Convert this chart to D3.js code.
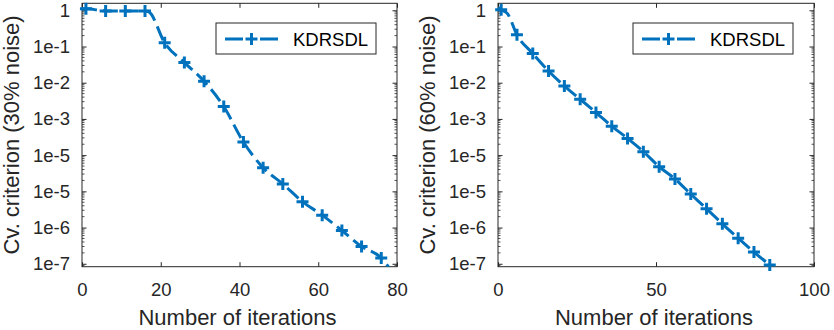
<!DOCTYPE html>
<html lang="en">
<head>
  <meta charset="UTF-8">
  <title>Cv. criterion vs iterations</title>
  <script src="https://d3js.org/d3.v7.min.js"></script>
  <style>
    body {
      margin: 0;
      background: #fff;
      font-family: "Liberation Sans", Arial, sans-serif;
    }
    .axis path, .axis line {
      stroke: #262626;
    }
    .axis text {
      font-family: "Liberation Sans", Arial, sans-serif;
      font-size: 18.5px;
      fill: #262626;
    }
  </style>
</head>
<body>
  <svg width="834" height="330"></svg>

  <script>
    // shared y ticks (labels as printed in the figure)
    const yTickValues = [1, 1e-1, 1e-2, 1e-3, 1e-4, 1e-5, 1e-6, 1e-7];
    const yTickLabels = ["1", "1e-1", "1e-2", "1e-3", "1e-5", "1e-5", "1e-6", "1e-7"];

    // 30% noise panel
    const iter30 = [0, 1, 6, 11, 16, 17, 21, 26, 31, 36, 41, 46, 51, 56, 61, 66, 71, 76, 78];
    const cv30 = [1.08, 1.1, 0.96, 0.96, 0.96, 0.9, 0.126, 0.036, 0.011, 0.0022, 2.3e-4, 4.5e-5,
                  1.6e-5, 5.2e-6, 2.2e-6, 8.3e-7, 3.0e-7, 1.44e-7, 7.8e-8];
    const marks30 = [1, 6, 11, 16, 21, 26, 31, 36, 41, 46, 51, 56, 61, 66, 71, 76];
    const xTicks30 = [0, 20, 40, 60, 80];

    // 60% noise panel
    const iter60 = [0, 1, 3, 6, 11, 16, 21, 26, 31, 36, 41, 46, 51, 56, 61, 66, 71, 76, 81, 86];
    const cv60 = [1.19, 1.04, 0.81, 0.21, 0.064, 0.021, 0.0081, 0.0035, 0.0015, 6.3e-4, 2.9e-4,
                  1.25e-4, 4.8e-5, 2.2e-5, 8.4e-6, 3.3e-6, 1.27e-6, 5.1e-7, 2.1e-7, 9.3e-8];
    const marks60 = [1, 6, 11, 16, 21, 26, 31, 36, 41, 46, 51, 56, 61, 66, 71, 76, 81, 86];
    const xTicks60 = [0, 50, 100];

    const seriesName = "KDRSDL";
    const blue = "#0072BD";
    const dark = "#262626";

    const svg = d3.select("svg");

    function drawPanel(opt) {
      const left = opt.left, right = opt.right, top = 3.3, bottom = 266.7;

      const x = d3.scaleLinear().domain(opt.xDomain).range([left, right]);
      const y = d3.scaleLog().domain([8.3e-8, 1.56]).range([bottom, top]);

      const g = svg.append("g");

      // clip region for the curve
      g.append("clipPath").attr("id", opt.id)
        .append("rect")
        .attr("x", left).attr("y", top)
        .attr("width", right - left).attr("height", bottom - top);

      // minor log ticks
      const minors = [];
      for (let k = -8; k <= 0; k++) {
        for (let m = 2; m <= 9; m++) {
          const v = m * Math.pow(10, k);
          if (v > 8.3e-8 && v < 1.56) minors.push(v);
        }
      }
      g.append("g").selectAll("line")
        .data(minors)
        .enter()
        .append("line")
        .attr("x1", left).attr("x2", left + 2.5)
        .attr("y1", d => y(d)).attr("y2", d => y(d))
        .attr("stroke", dark).attr("stroke-width", 0.8);
      g.append("g").selectAll("line")
        .data(minors)
        .enter()
        .append("line")
        .attr("x1", right).attr("x2", right - 2.5)
        .attr("y1", d => y(d)).attr("y2", d => y(d))
        .attr("stroke", dark).attr("stroke-width", 0.8);

      // axes
      g.append("g")
        .attr("class", "axis")
        .attr("transform", `translate(0,${bottom})`)
        .call(d3.axisBottom(x).tickValues(opt.xTicks).tickSizeInner(-4.5).tickSizeOuter(0).tickPadding(16));

      g.append("g")
        .attr("class", "axis")
        .attr("transform", `translate(0,${top})`)
        .call(d3.axisTop(x).tickValues(opt.xTicks).tickSizeInner(-4.5).tickSizeOuter(0).tickFormat(""));

      g.append("g")
        .attr("class", "axis")
        .attr("transform", `translate(${left},0)`)
        .call(d3.axisLeft(y).tickValues(yTickValues).tickFormat((d, i) => yTickLabels[i])
          .tickSizeInner(-4.5).tickSizeOuter(0).tickPadding(12));

      g.append("g")
        .attr("class", "axis")
        .attr("transform", `translate(${right},0)`)
        .call(d3.axisRight(y).tickValues(yTickValues).tickFormat("")
          .tickSizeInner(-4.5).tickSizeOuter(0));

      g.selectAll(".axis path.domain").remove();

      // box
      g.append("rect")
        .attr("x", left).attr("y", top)
        .attr("width", right - left).attr("height", bottom - top)
        .attr("fill", "none").attr("stroke", dark).attr("stroke-width", 1);

      // curve
      const pts = opt.iters.map((d, i) => [d, opt.values[i]]);
      const line = d3.line()
        .x(d => x(d[0]))
        .y(d => y(d[1]))
        .curve(d3.curveMonotoneX);

      g.append("path")
        .datum(pts)
        .attr("clip-path", `url(#${opt.id})`)
        .attr("d", line)
        .attr("fill", "none")
        .attr("stroke", blue)
        .attr("stroke-width", 3)
        .attr("stroke-dasharray", "15,6");

      // + markers
      const markPts = pts.filter(d => opt.marks.includes(d[0]));
      g.selectAll(".mark")
        .data(markPts)
        .enter()
        .append("path")
        .attr("class", "mark")
        .attr("transform", d => `translate(${x(d[0])},${y(d[1])})`)
        .attr("d", "M-6,0H6M0,-6V6")
        .attr("stroke", blue)
        .attr("stroke-width", 3)
        .attr("fill", "none");

      // axis titles
      g.append("text")
        .attr("x", (left + right) / 2 - 2)
        .attr("y", 325)
        .attr("text-anchor", "middle")
        .attr("font-size", "22px")
        .attr("fill", dark)
        .text("Number of iterations");

      g.append("text")
        .attr("transform", `translate(${left - 63},${(top + bottom) / 2}) rotate(-90)`)
        .attr("text-anchor", "middle")
        .attr("font-size", "22px")
        .attr("fill", dark)
        .text(opt.yTitle);

      // legend
      const lx = right - 181, ly = 23;
      g.append("rect")
        .attr("x", lx).attr("y", ly)
        .attr("width", 160).attr("height", 31)
        .attr("fill", "#fff").attr("stroke", dark).attr("stroke-width", 1);
      g.append("line")
        .attr("x1", lx + 9).attr("x2", lx + 62)
        .attr("y1", ly + 16).attr("y2", ly + 16)
        .attr("stroke", blue).attr("stroke-width", 3)
        .attr("stroke-dasharray", "18,17");
      g.append("path")
        .attr("transform", `translate(${lx + 35.5},${ly + 16})`)
        .attr("d", "M-6,0H6M0,-6V6")
        .attr("stroke", blue).attr("stroke-width", 3);
      g.append("text")
        .attr("x", lx + 77)
        .attr("y", ly + 22.5)
        .attr("font-size", "18.5px")
        .attr("fill", "#000")
        .text(seriesName);
    }

    drawPanel({
      id: "clip30", left: 82, right: 397, xDomain: [0, 80], xTicks: xTicks30,
      iters: iter30, values: cv30, marks: marks30,
      yTitle: "Cv. criterion (30% noise)"
    });

    drawPanel({
      id: "clip60", left: 498, right: 814, xDomain: [0, 100], xTicks: xTicks60,
      iters: iter60, values: cv60, marks: marks60,
      yTitle: "Cv. criterion (60% noise)"
    });
  </script>
</body>
</html>
